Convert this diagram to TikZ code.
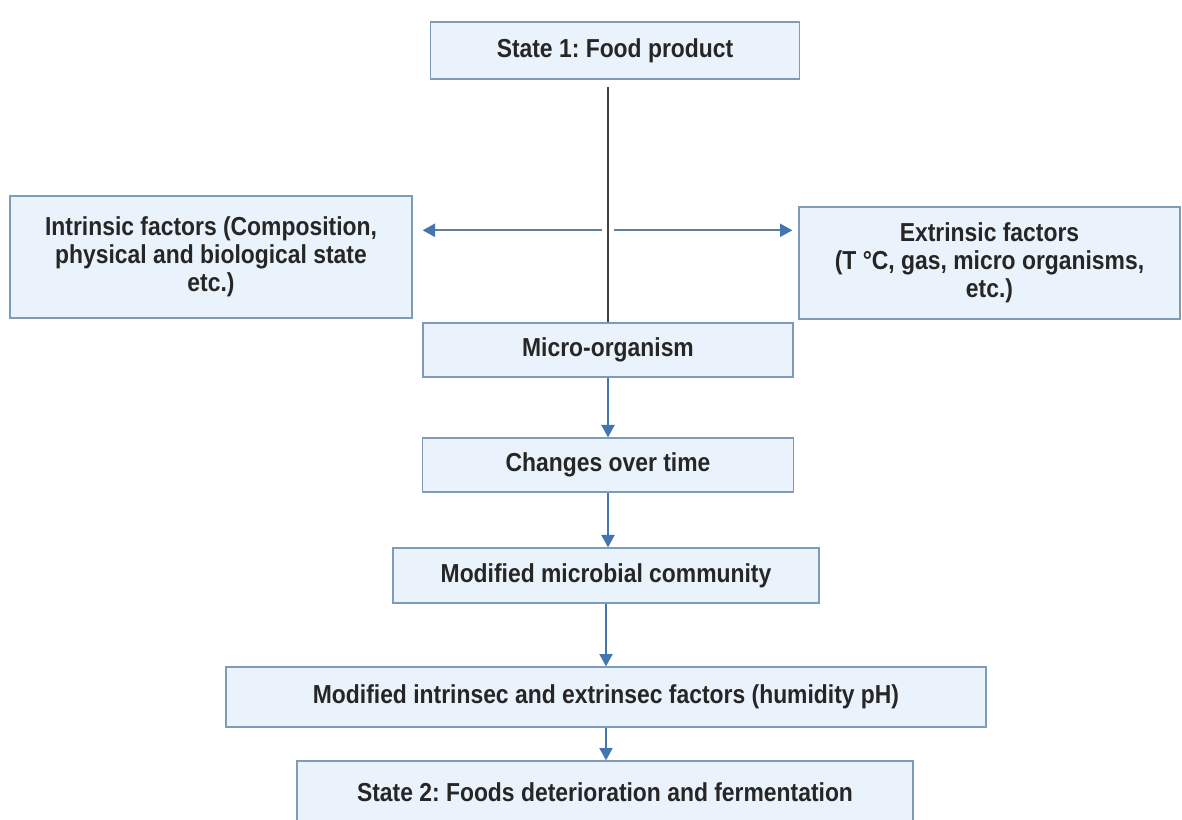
\documentclass[tikz,border=0pt]{standalone}
\usepackage{fontspec}
\setmainfont{Liberation Sans}[FakeStretch=0.88]
\usepackage{xcolor}
\definecolor{boxfill}{HTML}{EAF3FB}
\definecolor{boxline}{HTML}{7E9BB8}
\definecolor{arrblue}{HTML}{4375B0}
\definecolor{sideline}{HTML}{5F7F9F}
\usepackage{tikz}
\usetikzlibrary{
  arrows.meta,
  positioning,
  calc
}
\frenchspacing
\tikzset{
  factbox/.style={draw=boxline, line width=0.8pt, fill=boxfill,
    align=center, inner sep=2pt, text=black!85,
    font=\fontsize{14.8}{16}\selectfont\bfseries},
  arr/.style={-{Triangle[length=7pt, width=7.5pt]}, line width=0.9pt, arrblue},
  sidearr/.style={-{Triangle[length=7pt, width=7.5pt, color=arrblue]},
    line width=1pt, sideline},
}

\begin{document}
\begin{tikzpicture}
  \useasboundingbox (0,0) rectangle (23.64,-16.4);

  % States and steps
  \node[factbox, minimum width=7.38cm, minimum height=1.14cm]
    (state1) at (12.30,-1.01) {State 1: Food product};
  \node[factbox, minimum width=7.40cm, minimum height=1.08cm]
    (micro) at (12.16,-7.00) {Micro-organism};
  \node[factbox, minimum width=7.42cm, minimum height=1.08cm]
    (changes) at (12.16,-9.30) {Changes over time};
  \node[factbox, minimum width=8.52cm, minimum height=1.10cm]
    (commun) at (12.12,-11.51) {Modified microbial community};
  \node[factbox, minimum width=15.20cm, minimum height=1.20cm]
    (modfac) at (12.12,-13.94)
    {Modified intrinsec and extrinsec factors (humidity pH)};
  \node[factbox, minimum width=12.32cm, minimum height=1.24cm]
    (state2) at (12.10,-15.84)
    {State 2: Foods deterioration and fermentation};

  % Factors on both sides
  \node[factbox, minimum width=8.04cm, minimum height=2.44cm]
    (intr) at (4.22,-5.14)
    {Intrinsic factors (Composition,\\physical and biological state\\etc.)};
  \node[factbox, minimum width=7.62cm, minimum height=2.24cm]
    (extr) at (19.79,-5.26)
    {Extrinsic factors\\(T °C, gas, micro organisms,\\etc.)};

  % Trunk from state 1
  \coordinate (top) at ([yshift=-0.14cm]state1.south);
  \draw[line width=0.7pt, black!75] (top -| micro.north) -- (micro.north);
  \coordinate (splitL) at ($(micro.north)+(-0.12,1.84)$);
  \coordinate (splitR) at ($(micro.north)+(0.12,1.84)$);
  \draw[sidearr, shorten >=0.2cm] (splitL) -- (splitL -| intr.east);
  \draw[sidearr, shorten >=0.12cm] (splitR) -- (splitR -| extr.west);

  % Chain downwards
  \foreach \a/\b in {micro/changes, changes/commun, commun/modfac, modfac/state2}
    \draw[arr] (\a.south) -- (\a.south |- \b.north);
\end{tikzpicture}
\end{document}
